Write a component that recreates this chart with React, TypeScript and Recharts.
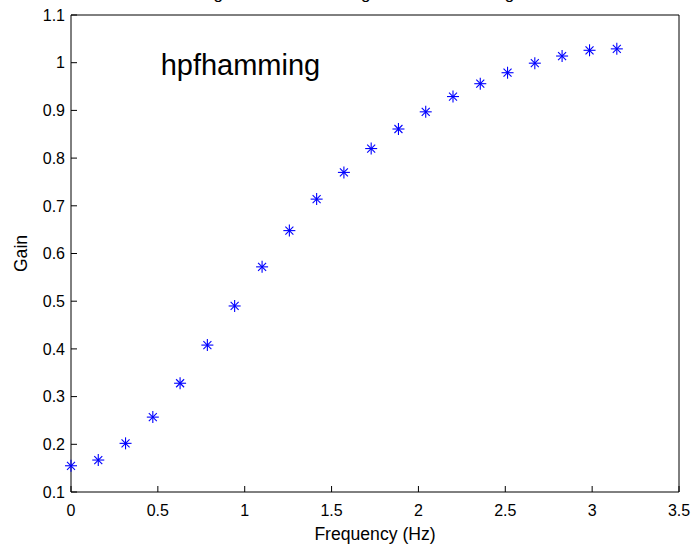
import React from 'react';
import { ScatterChart, Scatter, XAxis, YAxis, ReferenceDot } from 'recharts';

const frequencies = [0, 0.157, 0.314, 0.471, 0.628, 0.785, 0.942, 1.1, 1.257, 1.414, 1.571, 1.728, 1.885, 2.042, 2.199, 2.356, 2.513, 2.67, 2.827, 2.985, 3.142];
const gains = [0.155, 0.167, 0.202, 0.257, 0.328, 0.408, 0.49, 0.572, 0.648, 0.714, 0.77, 0.82, 0.861, 0.897, 0.929, 0.956, 0.979, 0.999, 1.014, 1.026, 1.029];
const xTicks = [0, 0.5, 1, 1.5, 2, 2.5, 3, 3.5];
const yTicks = [0.1, 0.2, 0.3, 0.4, 0.5, 0.6, 0.7, 0.8, 0.9, 1, 1.1];
const titleText = 'Magnitude of filter using window: Hamming';
const xLabel = 'Frequency (Hz)';
const yLabel = 'Gain';
const annotation = { text: 'hpfhamming', x: 0.516, y: 0.975 };

const data = frequencies.map((f, i) => ({ f, g: gains[i] }));

const FONT = 'Liberation Sans, Arial, Helvetica, sans-serif';
const BLUE = '#0000ff';
const X_DOMAIN: [number, number] = [0, 3.5];
const Y_DOMAIN: [number, number] = [0.1, 1.1];
const TICK_LEN = 6;
const TICK_FONT = 16;

const Asterisk = (props: any) => {
  const { cx, cy } = props;
  if (cx == null || cy == null) return null;
  return (
    <g stroke={BLUE} strokeWidth={1.1} fill="none">
      <line x1={cx - 6} y1={cy} x2={cx + 6} y2={cy} />
      <line x1={cx} y1={cy - 6} x2={cx} y2={cy + 6} />
      <line x1={cx - 4} y1={cy - 4} x2={cx + 4} y2={cy + 4} />
      <line x1={cx - 4} y1={cy + 4} x2={cx + 4} y2={cy - 4} />
    </g>
  );
};

const BottomTick = (props: any) => {
  const { x, y, payload } = props;
  return (
    <g>
      <line x1={x} y1={y} x2={x} y2={y - TICK_LEN} stroke="#000" strokeWidth={1} />
      <text x={x} y={y + 13} dy="0.71em" textAnchor="middle" fontSize={TICK_FONT} fontFamily={FONT} fill="#000">
        {String(payload.value)}
      </text>
    </g>
  );
};

const LeftTick = (props: any) => {
  const { x, y, payload } = props;
  return (
    <g>
      <line x1={x} y1={y} x2={x + TICK_LEN} y2={y} stroke="#000" strokeWidth={1} />
      <text x={x - 6} y={y} dy="0.36em" textAnchor="end" fontSize={TICK_FONT} fontFamily={FONT} fill="#000">
        {String(payload.value)}
      </text>
    </g>
  );
};

const TopTick = (props: any) => {
  const { x, y } = props;
  return <line x1={x} y1={y} x2={x} y2={y + TICK_LEN} stroke="#000" strokeWidth={1} />;
};

const RightTick = (props: any) => {
  const { x, y } = props;
  return <line x1={x} y1={y} x2={x - TICK_LEN} y2={y} stroke="#000" strokeWidth={1} />;
};

const black = { stroke: '#000' };

export default function App() {
  return (
    <div style={{ position: 'absolute', left: 0, top: 0, width: 695, height: 548, background: '#fff' }}>
      <ScatterChart width={695} height={548} margin={{ top: 14, right: 15, bottom: 0, left: 0 }}>
        <XAxis
          xAxisId="b"
          type="number"
          dataKey="f"
          domain={X_DOMAIN}
          ticks={xTicks}
          interval={0}
          orientation="bottom"
          height={56}
          tickSize={0}
          tickMargin={0}
          axisLine={black}
          tickLine={false}
          tick={BottomTick}
          label={{
            content: (p: any) => {
              const vb = p.viewBox;
              return (
                <text x={vb.x + vb.width / 2} y={vb.y + 48} textAnchor="middle" fontSize={17.6} fontFamily={FONT} fill="#000">
                  {xLabel}
                </text>
              );
            },
          }}
        />
        <XAxis
          xAxisId="t"
          type="number"
          dataKey="f"
          domain={X_DOMAIN}
          ticks={xTicks}
          interval={0}
          orientation="top"
          height={1}
          tickSize={0}
          tickMargin={0}
          axisLine={black}
          tickLine={false}
          tick={TopTick}
          label={{
            content: (p: any) => {
              const vb = p.viewBox;
              return (
                <text x={vb.x + 119} y={vb.y - 15} textAnchor="start" fontSize={17} fontFamily={FONT} fill="#000">
                  {titleText}
                </text>
              );
            },
          }}
        />
        <YAxis
          yAxisId="l"
          type="number"
          dataKey="g"
          domain={Y_DOMAIN}
          ticks={yTicks}
          interval={0}
          orientation="left"
          width={71}
          tickSize={0}
          tickMargin={0}
          axisLine={black}
          tickLine={false}
          tick={LeftTick}
          label={{
            content: (p: any) => {
              const vb = p.viewBox;
              const x = vb.x + 27;
              const y = vb.y + vb.height / 2;
              return (
                <text x={x} y={y} transform={`rotate(-90, ${x}, ${y})`} textAnchor="middle" fontSize={17.6} fontFamily={FONT} fill="#000">
                  {yLabel}
                </text>
              );
            },
          }}
        />
        <YAxis
          yAxisId="r"
          type="number"
          dataKey="g"
          domain={Y_DOMAIN}
          ticks={yTicks}
          interval={0}
          orientation="right"
          width={1}
          tickSize={0}
          tickMargin={0}
          axisLine={black}
          tickLine={false}
          tick={RightTick}
        />
        <Scatter
          xAxisId="b"
          yAxisId="l"
          data={data}
          dataKey="g"
          shape={<Asterisk />}
          isAnimationActive={false}
        />
        <ReferenceDot
          xAxisId="b"
          yAxisId="l"
          x={annotation.x}
          y={annotation.y}
          r={1}
          fill="none"
          stroke="none"
          label={{
            content: (p: any) => {
              const vb = p.viewBox;
              return (
                <text x={vb.x + vb.width / 2} y={vb.y + vb.height / 2} textAnchor="start" fontSize={29} fontFamily={FONT} fill="#000">
                  {annotation.text}
                </text>
              );
            },
          }}
        />
      </ScatterChart>
    </div>
  );
}
